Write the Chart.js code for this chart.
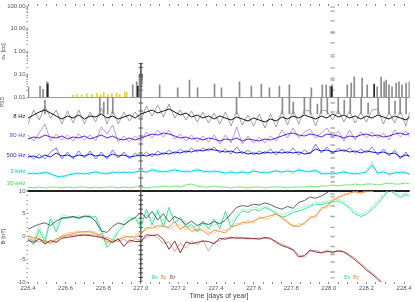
<!DOCTYPE html>
<html><head><meta charset="utf-8">
<script src="https://cdn.jsdelivr.net/npm/chart.js@4"></script>
<style>html,body{margin:0;padding:0;background:#fff;overflow:hidden}canvas{display:block}</style>
</head><body>
<canvas id="c" width="415" height="302"></canvas>
<script>
// ---------- tick labels ----------
const X_TICKS = [226.4,226.6,226.8,227.0,227.2,227.4,227.6,227.8,228.0,228.2,228.4];
const N_TICKS = [0.01,0.1,1,10,100];
const N_LABELS = ['0.01','0.10','1.00','10.00','100.00'];
const B_TICKS = [-10,-5,0,5,10];
const B_LABELS = ['-10','-5','0','5','10'];
const CH_POS = [74,55,35,19,7];
const CH_LABELS = ['8 Hz','80 Hz','500 Hz','3 kHz','30 kHz'];

// ---------- time samples (day of year) ----------
const T = [226.40,226.43,226.46,226.49,226.52,226.55,226.58,226.61,226.64,226.67,
226.70,226.73,226.76,226.79,226.82,226.85,226.88,226.91,226.94,226.97,
227.00,227.03,227.06,227.09,227.12,227.15,227.18,227.21,227.24,227.27,
227.30,227.33,227.36,227.39,227.42,227.45,227.48,227.51,227.54,227.57,
227.60,227.63,227.66,227.69,227.72,227.75,227.78,227.81,227.84,227.87,
227.90,227.93,227.96,227.99,228.02,228.05,228.08,228.11,228.14,228.17,
228.20,228.23,228.26,228.29,228.32,228.35,228.38,228.41,228.43];

// ---------- middle panel channels (stacked offsets) ----------
const W_BLACK = [72,75,78,80,77,74,71,74,72,75,71,74,73,76,72,74,71,73,75,72,76,78,80,77,79,81,78,75,77,73,75,72,74,71,74,72,70,73,71,69,72,70,68,71,69,73,71,74,72,75,73,71,74,72,76,73,75,72,74,71,74,72,75,73,71,74,72,70,73];
const W_GREY = [66,80,70,84,72,80,66,79,67,80,66,78,68,82,66,80,66,78,69,78,70,84,74,85,73,86,72,80,70,79,68,78,67,77,66,78,64,79,65,75,64,76,62,76,63,79,65,80,66,80,79,64,80,79,70,80,68,79,67,78,68,80,81,66,78,67,79,64,78];
const W_SPIKE_T = [226.490,226.782,226.803,226.824,226.851,227.509,227.753,227.790,227.811,227.870,227.902,227.939,227.960,227.992,228.050,228.082,228.114,228.172,228.209,228.262,228.320,228.352,228.379,228.411];
const W_SPIKE_TOP = [90,93,88,93,93,93,93,93,88,93,93,86,93,93,93,90,93,93,87,93,93,89,93,93];
const P_DARK = [51,53,52,55,53,52,54,51,53,52,54,51,53,55,52,54,51,50,52,50,52,54,56,55,57,56,54,52,53,51,52,50,52,51,49,51,50,52,49,51,50,49,51,50,52,54,56,57,55,54,56,55,53,56,55,54,52,54,53,55,56,54,55,53,54,56,57,55,57];
const P_LIGHT = [55,49,57,66,49,56,50,55,49,56,50,55,49,63,56,65,48,54,48,54,49,58,52,60,53,60,51,56,49,55,48,54,48,55,46,55,47,63,46,54,47,53,47,54,49,60,52,62,52,58,61,52,57,62,52,59,49,60,50,58,52,58,52,57,50,60,53,59,53];
const BL_DARK = [33,34,32,35,33,37,34,35,33,35,34,36,34,35,33,36,34,35,33,34,35,34,36,35,37,36,38,37,39,38,40,39,41,40,39,38,39,37,38,36,37,36,38,37,38,37,38,37,38,36,37,41,39,40,38,39,40,38,39,37,39,38,37,38,36,37,33,35,34];
const BL_LIGHT = [36,31,36,31,38,42,31,38,31,39,32,39,31,38,31,40,32,38,31,37,33,38,33,39,35,40,36,41,37,42,38,42,39,43,37,41,36,43,36,40,35,39,36,41,35,41,36,42,35,40,36,46,37,43,36,42,38,42,37,41,37,43,35,41,34,40,31,38,32];
const CY_DARK = [16,17,16,18,16,14,13,15,16,17,16,17,18,17,16,18,17,18,17,18,19,18,20,19,18,19,20,19,18,19,20,19,18,19,18,17,18,17,18,17,19,18,17,18,19,18,19,18,20,19,18,20,16,17,16,17,18,17,16,17,18,25,17,18,16,17,18,17,16];
const CY_LIGHT = [18,15,18,16,18,12,15,13,18,15,18,15,20,15,18,16,19,16,19,16,21,17,22,17,20,17,22,17,20,17,22,17,20,17,20,15,20,15,20,15,21,16,19,16,21,16,21,16,22,17,20,18,18,15,18,15,20,15,18,15,20,28,15,20,14,19,16,19,14];
const GR_CH = [3,2,3,2,3,3,2,3,2,3,3,2,3,2,3,3,2,3,2,3,3,2,3,3,4,3,4,3,5,6,4,3,3,4,3,3,2,3,3,2,3,3,2,3,3,3,2,3,3,3,4,3,4,4,5,4,5,5,6,5,6,6,5,6,7,6,6,7,6];

// ---------- bottom panel magnetic field [nT] ----------
const B_TOT = [1.6,2.2,2.7,3.0,2.4,3.4,4.0,4.2,4.4,4.1,4.5,4.4,3.3,1.2,0.9,2.2,3.0,2.6,3.4,4.2,5.3,4.0,5.5,3.6,5.0,3.2,4.4,3.8,2.6,3.4,2.4,3.0,2.6,3.3,2.8,3.6,5.0,6.4,6.8,6.6,7.1,6.9,7.4,7.0,6.4,6.0,6.6,6.2,7.5,7.9,8.7,8.4,8.9,9.6,10.6,11.5,null,null,null,null,null,null,null,null,null,null,null,null,null];
const BX1 = [-0.5,-1.8,1.5,-1.3,3.8,1.0,4.2,4.0,4.3,3.9,4.4,4.2,4.4,1.5,-2.4,-1.1,1.1,2.4,3.8,4.2,2.0,6.0,2.6,5.6,2.2,6.4,3.0,4.2,2.0,2.6,1.1,3.4,1.6,3.8,1.8,5.5,2.0,4.2,5.6,5.3,6.0,5.6,6.4,5.8,4.9,4.2,4.6,5.3,5.6,6.0,6.6,7.1,7.0,7.4,7.6,7.8,7.2,6.2,5.0,4.4,4.9,6.0,7.2,8.7,10.2,9.4,8.6,9.2,8.8];
const BX2 = [0.3,-1.0,2.4,-0.6,4.4,2.0,4.8,4.5,4.0,4.6,4.1,4.8,3.6,0.2,-1.6,-0.4,2.0,3.2,4.4,3.4,3.6,4.8,3.9,6.2,3.5,5.2,4.4,3.0,3.4,1.8,2.4,2.6,3.0,2.4,3.2,4.4,3.2,5.0,6.0,5.8,6.5,6.2,6.8,6.0,5.4,4.8,5.2,5.8,6.2,6.6,7.0,7.6,7.4,7.8,8.0,8.3,7.6,6.6,5.6,4.8,5.4,6.6,7.8,9.2,10.4,9.8,9.0,9.6,9.2];
const BY1 = [0.0,-0.2,-0.6,-1.1,-1.5,-0.6,0.0,0.4,0.6,0.9,1.1,1.0,0.6,0.4,-1.1,-1.3,-0.6,-0.2,0.0,-0.2,0.4,2.0,1.8,2.4,2.2,2.0,3.3,1.6,2.4,1.1,1.6,1.3,0.4,1.4,1.1,0.8,2.2,2.4,3.1,3.0,3.4,4.0,4.2,4.6,4.9,4.4,3.0,2.4,2.2,3.0,4.0,4.6,6.0,6.8,7.8,8.7,9.0,9.6,9.8,9.6,9.9,10.0,10.6,11.4,null,null,null,null,null];
const BY2 = [0.4,-0.6,0.2,-1.8,-0.8,-1.2,0.3,0.8,0.9,1.2,0.8,1.3,0.9,-0.3,-1.6,-0.8,-1.0,0.3,-0.4,0.2,1.0,1.4,2.6,1.7,3.0,1.5,2.4,2.6,1.5,2.0,0.9,2.0,1.0,0.6,1.8,1.3,1.6,2.9,2.6,3.6,2.9,4.4,3.7,4.1,5.3,3.8,3.5,2.0,2.8,2.6,4.5,4.0,6.5,6.2,8.3,8.2,9.5,9.2,10.2,9.3,10.3,9.8,10.9,11.6,null,null,null,null,null];
const BZ1 = [-0.8,-1.3,-0.5,-1.6,-0.9,-1.3,-0.4,-0.2,0.0,0.2,0.3,0.2,0.0,-0.2,-0.6,-1.3,-0.5,-2.2,-0.8,-1.1,-1.1,0.4,0.2,0.4,-0.6,-2.8,-1.0,-3.6,-1.2,-1.6,-1.3,-1.0,-1.1,-1.6,-0.4,-0.6,-0.2,-0.4,-0.3,-0.5,-0.4,-0.6,-0.2,-0.4,-1.3,-2.0,-2.4,-3.0,-4.5,-4.2,-3.0,-3.4,-3.6,-3.3,-3.4,-3.2,-3.4,-4.2,-5.2,-6.2,-7.4,-8.3,-9.4,-10.6,null,null,null,null,null];
const BZ2 = [-0.4,-0.9,-1.2,-0.8,-1.5,-0.6,-0.1,0.1,0.3,0.4,0.5,0.4,0.3,0.0,-0.2,-0.7,-1.1,-0.6,-1.4,-0.5,-0.8,-0.2,0.4,-0.3,-1.5,-1.2,-3.3,-1.4,-2.6,-1.0,-1.8,-0.8,-3.2,-1.2,-0.9,-0.2,-0.4,-0.1,-0.4,-0.2,-0.6,-0.3,-0.4,-0.6,-1.0,-1.7,-2.2,-2.8,-4.0,-4.6,-3.2,-3.0,-3.5,-3.0,-3.6,-3.0,-3.3,-4.0,-4.8,-5.9,-7.0,-8.0,-9.0,-10.2,null,null,null,null,null];

// ---------- top panel density spikes [cc] ----------
const SPIKE_T = [226.402,226.464,226.480,226.501,226.506,226.957,226.978,226.994,227.100,227.196,227.259,227.302,227.392,227.429,227.525,227.588,227.641,227.684,227.737,227.790,227.907,227.965,227.986,228.007,228.018,228.098,228.119,228.135,228.177,228.204,228.257,228.278,228.294,228.305,228.320,228.336,228.358,228.373,228.389,228.411,228.428];
const SPIKE_N = [0.027,0.030,0.022,0.046,0.042,0.034,0.046,0.076,0.034,0.025,0.056,0.025,0.037,0.025,0.046,0.030,0.037,0.025,0.030,0.034,0.025,0.034,0.034,0.030,0.034,0.034,0.041,0.076,0.068,0.034,0.028,0.076,0.046,0.056,0.034,0.028,0.041,0.046,0.034,0.041,0.046];
const DARK_T = [226.504,226.984,228.015,228.241];
const DARK_N = [0.036,0.030,0.028,0.037];
const YEL_T = [226.639,226.660,226.686,226.713,226.740,226.766,226.787,226.803,226.824,226.846,226.872,226.888,226.915,226.925];
const YEL_N = [0.012,0.013,0.012,0.014,0.013,0.015,0.012,0.016,0.013,0.014,0.015,0.013,0.017,0.016];

// ---------- inner reference axes ----------
const AX1_T = 227.0;
const AX1_TOP = [0.02,0.03,0.04,0.05,0.06,0.07,0.08,0.09,0.1,0.2,0.3];
const AX1_MID = [4,12,21,29,37,46,54,62,71,79,87];
const AX1_BOT = [-10,-9,-8,-7,-6,-5,-4,-3,-2,-1,0,1,2,3,4,5,6,7,8,9,10];
const AX2_T = 228.02;
const AX2_TOP = [90,60,22,7.2,6.5,2.4,0.71,0.58,0.19,0.068,0.056,0.02];
const AX2_MID = [87,78,62,57,53,45,37,32,22,18,13,8];
const AX2_BOT = [9.3,8.7,6.7,4.4,2.0,0,-2.2,-3.6,-4.0,-5.6,-7.8,-9.1];

// ---------- styles ----------
const CH_COLORS = ['#111111','#7a3cf0','#2424d8','#00c8e0','#3cd83c'];
Chart.defaults.font.family = "'Liberation Sans', Arial, sans-serif";
Chart.defaults.font.size = 6;
Chart.defaults.color = '#555';

const pts = (xs, ys) => xs.map((x, i) => ({x: x, y: ys[i]}));
const line = (ys, color, axis, w, order) => ({type:'line', data: pts(T, ys), yAxisID: axis, borderColor: color, borderWidth: w, pointRadius: 0, tension: 0, fill: false, order: order});
const bars = (ts, lo, ns, color, axis, order) => ({type:'bar', data: ts.map((t, i) => ({x: t, y: [lo, ns[i]]})), yAxisID: axis, backgroundColor: color, barThickness: 1, grouped: false, borderWidth: 0, order: order});
const dashes = (t, ys, axis, color, w) => ({type:'scatter', data: ys.map(y => ({x: t, y: y})), yAxisID: axis, pointStyle: 'line', pointRadius: 2.2, borderColor: color, borderWidth: w, order: 6});
const vline = (t, lo, hi, axis, color, w) => ({type:'line', data: [{x: t, y: lo}, {x: t, y: hi}], yAxisID: axis, borderColor: color, borderWidth: w, pointRadius: 0, order: 6});

const xTickBuilder = (scale) => {
  const ticks = [];
  X_TICKS.forEach((v, k) => {
    ticks.push({value: v});
    if (k < X_TICKS.length - 1) for (let m = 1; m < 4; m++) ticks.push({value: +(v + m * 0.05).toFixed(2)});
  });
  scale.ticks = ticks;
};
const xLabel = (v) => { const k = X_TICKS.findIndex(t => Math.abs(t - v) < 1e-6); return k >= 0 ? X_TICKS[k].toFixed(1) : ''; };

const noteCfg = [
  {s:'Bx', c:'#2ce68c', t:227.074, v:-9.1}, {s:'By', c:'#f08a2c', t:227.121, v:-9.1}, {s:'Bz', c:'#b05050', t:227.169, v:-9.1},
  {s:'Bx', c:'#2ce68c', t:228.098, v:-9.1}, {s:'By', c:'#f08a2c', t:228.145, v:-9.1}
];
const notePlugin = {
  id: 'notes',
  afterDatasetsDraw(chart) {
    const {ctx, scales} = chart;
    ctx.save();
    ctx.font = "5px 'Liberation Sans', Arial, sans-serif";
    ctx.textAlign = 'center'; ctx.textBaseline = 'middle';
    noteCfg.forEach(n => { ctx.fillStyle = n.c; ctx.fillText(n.s, scales.x.getPixelForValue(n.t), scales.yB.getPixelForValue(n.v)); });
    ctx.restore();
  }
};

const datasets = [
  // top panel
  bars(DARK_T, N_TICKS[0], DARK_N, '#222222', 'yT', 4),
  bars(SPIKE_T, N_TICKS[0], SPIKE_N, '#8c8c8c', 'yT', 4),
  bars(YEL_T, N_TICKS[0], YEL_N, '#f2d21e', 'yT', 4),
  vline(AX1_T, 0.3, 0.01, 'yT', '#555', 1),
  dashes(AX1_T, AX1_TOP, 'yT', '#555', 1),
  dashes(AX2_T, AX2_TOP, 'yT', '#aaa', 1.3),
  // middle panel
  line(W_BLACK, '#111111', 'yM', 1, 2),
  line(W_GREY, '#8c8c8c', 'yM', 0.8, 3),
  bars(W_SPIKE_T, 76, W_SPIKE_TOP, '#8c8c8c', 'yM', 3),
  line(P_DARK, '#5a1ed2', 'yM', 1, 2),
  line(P_LIGHT, '#a67cf2', 'yM', 0.8, 3),
  line(BL_DARK, '#1414c8', 'yM', 1, 2),
  line(BL_LIGHT, '#5c5cff', 'yM', 0.8, 3),
  line(CY_DARK, '#00cfe6', 'yM', 1, 2),
  line(CY_LIGHT, '#7defff', 'yM', 0.8, 3),
  line(GR_CH, '#4ee04e', 'yM', 0.8, 2),
  vline(AX1_T, -1, 93, 'yM', '#555', 1),
  dashes(AX1_T, AX1_MID, 'yM', '#555', 1),
  dashes(AX2_T, AX2_MID, 'yM', '#aaa', 1.3),
  // bottom panel
  line(B_TOT, '#3a3a3a', 'yB', 0.8, 2),
  line(BZ1, '#8b1a1a', 'yB', 0.9, 2),
  line(BY1, '#f08a2c', 'yB', 0.9, 3),
  line(BX1, '#1ee68a', 'yB', 0.9, 3),
  line(BZ2, '#c89090', 'yB', 0.8, 4),
  line(BY2, '#f7b878', 'yB', 0.8, 4),
  line(BX2, '#92f2c4', 'yB', 0.8, 4),
  vline(AX1_T, -10, 10, 'yB', '#444', 1.3),
  dashes(AX1_T, AX1_BOT, 'yB', '#444', 1),
  dashes(AX2_T, AX2_BOT, 'yB', '#aaa', 1.3)
];

new Chart(document.getElementById('c'), {
  type: 'line',
  data: {datasets: datasets},
  plugins: [notePlugin],
  options: {
    responsive: false,
    animation: false,
    events: [],
    layout: {padding: {top: 0, right: 4, bottom: 0, left: 0}},
    plugins: {legend: {display: false}, tooltip: {enabled: false}},
    scales: {
      x: {
        type: 'linear', position: 'bottom', min: 226.4, max: 228.43, offset: false,
        afterBuildTicks: xTickBuilder,
        ticks: {autoSkip: false, maxRotation: 0, minRotation: 0, padding: 1, callback: xLabel, color: '#555'},
        grid: {drawOnChartArea: false, offset: false, tickLength: 2, color: '#888'},
        border: {display: false},
        title: {display: true, text: 'Time [days of year]', font: {size: 7}, color: '#444', padding: {top: 0, bottom: 2}},
        afterFit: (s) => { s.height = 20; }
      },
      xTop: {
        type: 'linear', position: 'top', min: 226.4, max: 228.43, offset: false,
        afterBuildTicks: xTickBuilder,
        ticks: {display: false},
        grid: {drawOnChartArea: false, offset: false, tickLength: 2, color: '#888'},
        border: {display: false},
        afterFit: (s) => { s.height = 6; }
      },
      yT: {
        type: 'logarithmic', position: 'left', stack: 'panels', stackWeight: 91, weight: 3,
        min: 0.01, max: 100, beginAtZero: false,
        afterBuildTicks: (s) => {
          const ticks = [];
          N_TICKS.forEach((d, k) => {
            ticks.push({value: d});
            if (k < N_TICKS.length - 1) for (let m = 2; m < 10; m++) ticks.push({value: d * m});
          });
          s.ticks = ticks;
        },
        ticks: {autoSkip: false, padding: 1, callback: (v) => { const k = N_TICKS.indexOf(v); return k >= 0 ? N_LABELS[k] : ''; }},
        grid: {color: (c) => (c.tick && c.tick.value === N_TICKS[0]) ? '#9a9a9a' : 'rgba(0,0,0,0)', tickColor: '#999', tickLength: 1.5},
        border: {display: false},
        title: {display: true, text: 'nₑ [cc]', color: '#444', padding: {top: 0, bottom: 0}},
        afterFit: (s) => { s.width = 28; }
      },
      yM: {
        type: 'linear', position: 'left', stack: 'panels', stackWeight: 94, weight: 2,
        min: -1, max: 93,
        afterBuildTicks: (s) => { s.ticks = CH_POS.map(v => ({value: v})); },
        ticks: {autoSkip: false, padding: 1, callback: (v, i) => CH_LABELS[i], color: (c) => CH_COLORS[c.index]},
        grid: {drawOnChartArea: false, tickLength: 1.5, tickColor: 'rgba(0,0,0,0)'},
        border: {display: false},
        title: {display: true, text: 'PSD', align: 'end', color: '#444', font: {size: 5}, padding: {top: 0, bottom: 0}},
        afterFit: (s) => { s.width = 28; }
      },
      yB: {
        type: 'linear', position: 'left', stack: 'panels', stackWeight: 91, weight: 1,
        min: -10, max: 10,
        afterBuildTicks: (s) => { s.ticks = AX1_BOT.map(v => ({value: v})); },
        ticks: {autoSkip: false, padding: 1, callback: (v) => { const k = B_TICKS.indexOf(v); return k >= 0 ? B_LABELS[k] : ''; }},
        grid: {color: (c) => (c.tick && c.tick.value === B_TICKS[4]) ? '#222' : 'rgba(0,0,0,0)', lineWidth: (c) => (c.tick && c.tick.value === B_TICKS[4]) ? 2 : 1, tickColor: '#999', tickLength: 1.5},
        border: {display: false},
        title: {display: true, text: 'B [nT]', color: '#444', padding: {top: 0, bottom: 0}},
        afterFit: (s) => { s.width = 28; }
      }
    }
  }
});
</script>
</body></html>
